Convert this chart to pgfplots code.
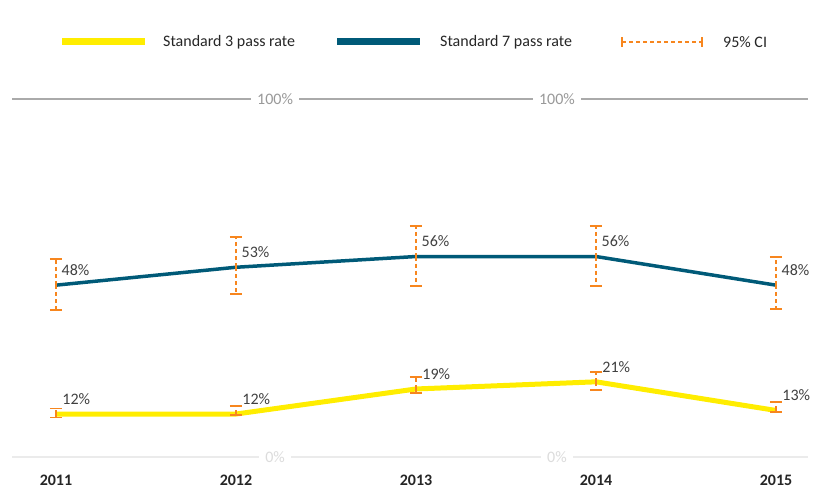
\documentclass[border=0pt]{standalone}
\usepackage{fontspec}
\setmainfont{Carlito}
\usepackage{pgfplots}
\pgfplotsset{compat=1.18}
\definecolor{yel}{HTML}{FFED00}
\definecolor{blu}{HTML}{005A78}
\definecolor{org}{HTML}{F7861E}
\definecolor{txt}{HTML}{262626}
\definecolor{labc}{HTML}{404040}
\definecolor{gridc}{HTML}{AAAAAA}
\definecolor{gridl}{HTML}{999999}
\definecolor{zeroc}{HTML}{EBEBEB}
\definecolor{zerol}{HTML}{DCDCDC}
\pgfplotstableread{
x y ep em
2011 48 7.3 6.9
2012 53 8.5 7.5
2013 56 8.5 8.2
2014 56 8.5 8.2
2015 48 7.9 6.7
}\stdseven
\pgfplotstableread{
x y ep em
2011 12 1.6 1.0
2012 12 2.2 0.3
2013 19 3.3 1.1
2014 21 2.7 2.3
2015 13 2.4 0.4
}\stdthree
\newcommand{\fs}{\fontsize{16}{19}\selectfont}
\begin{document}
\begin{tikzpicture}[x=1pt,y=1pt]
\useasboundingbox (0,0) rectangle (815,488);
% legend
\draw[yel, line width=7pt] (62,446) -- (145,446);
\node[anchor=west, font=\fs, text=txt, inner sep=0] at (163,446) {Standard 3 pass rate};
\draw[blu, line width=7pt] (337,446) -- (420,446);
\node[anchor=west, font=\fs, text=txt, inner sep=0] at (440,446) {Standard 7 pass rate};
\draw[org, line width=1.5pt, dash pattern=on 4pt off 3pt] (622,446) -- (702,446);
\draw[org, line width=1.5pt] (622,441) -- (622,451);
\draw[org, line width=1.5pt] (702,441) -- (702,451);
\node[anchor=west, font=\fs, text=txt, inner sep=0] at (723,446) {95\% CI};
\begin{axis}[
  at={(12pt,31pt)}, anchor=south west,
  scale only axis, width=796pt, height=358pt,
  xmin=2010.7556, xmax=2015.1778, ymin=0, ymax=100,
  axis line style={draw=none},
  ytick=\empty,
  xtick={2011,2012,2013,2014,2015},
  xticklabels={2011,2012,2013,2014,2015},
  major tick length=0pt,
  xticklabel style={font=\fs\bfseries, text=txt, anchor=center, yshift=-23pt},
  clip=false,
  /pgf/number format/assume math mode=true,
  nodes near coords={\pgfmathprintnumber[fixed,precision=0]{\pgfplotspointmeta}\%},
  point meta=y,
  nodes near coords style={anchor=west, xshift=3pt, yshift=15pt, font=\fs, text=labc, inner sep=1pt},
]
\draw[zeroc, line width=1.5pt] (axis cs:2010.7556,0) -- (axis cs:2015.1778,0);
\draw[gridc, line width=1.8pt] (axis cs:2010.7556,100) -- (axis cs:2015.1778,100);
\node[fill=white, text=gridl, font=\fs, inner xsep=6pt] at (axis cs:2012.217,100) {100\%};
\node[fill=white, text=gridl, font=\fs, inner xsep=6pt] at (axis cs:2013.783,100) {100\%};
\node[fill=white, text=zerol, font=\fs, inner xsep=6pt] at (axis cs:2012.217,0) {0\%};
\node[fill=white, text=zerol, font=\fs, inner xsep=6pt] at (axis cs:2013.783,0) {0\%};
\addplot[yel, line width=5pt, line join=round,
  error bars/.cd, y dir=both, y explicit, error mark=|,
  error bar style={org, line width=1.5pt, dash pattern=on 4pt off 3pt},
  error mark options={org, solid, line width=1.5pt, mark size=6pt}]
  table[x=x, y=y, y error plus=ep, y error minus=em] {\stdthree};
\addplot[blu, line width=3.5pt, line join=round,
  error bars/.cd, y dir=both, y explicit, error mark=|,
  error bar style={org, line width=1.5pt, dash pattern=on 4pt off 3pt},
  error mark options={org, solid, line width=1.5pt, mark size=6pt}]
  table[x=x, y=y, y error plus=ep, y error minus=em] {\stdseven};
\end{axis}
\end{tikzpicture}
\end{document}
